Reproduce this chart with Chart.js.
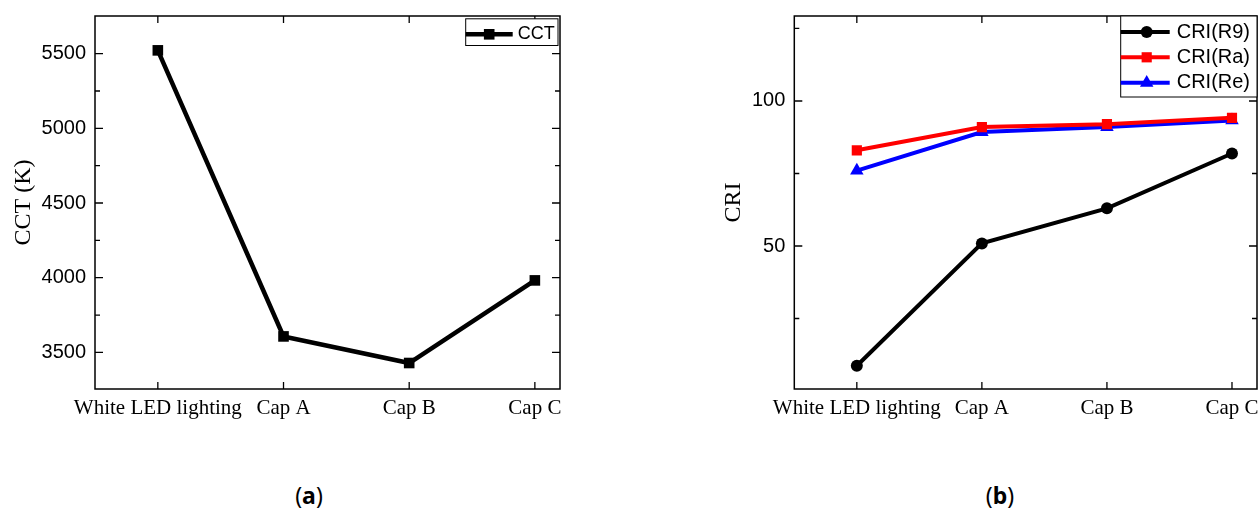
<!DOCTYPE html>
<html><head><meta charset="utf-8">
<script src="https://cdn.jsdelivr.net/npm/chart.js@4/dist/chart.umd.min.js"></script>
<style>
html,body{margin:0;padding:0;background:#fff;}
body{width:1258px;height:511px;position:relative;overflow:hidden;}
#wa{position:absolute;left:0;top:0;width:600px;height:440px;}
#wb{position:absolute;left:680px;top:0;width:578px;height:440px;}
.cap{position:absolute;top:480px;font-family:"Noto Sans";font-size:23px;line-height:30px;color:#000;transform:translateX(-50%);white-space:nowrap;}
.cap b{font-weight:700;}
</style></head>
<body>
<div id="wa"><canvas id="ca" width="600" height="440"></canvas></div>
<div id="wb"><canvas id="cb" width="578" height="440"></canvas></div>
<div class="cap" style="left:309px">(<b>a</b>)</div>
<div class="cap" style="left:1000px">(<b>b</b>)</div>
<script>
const categories = ['White LED lighting', 'Cap A', 'Cap B', 'Cap C'];
const cctValues = [5522, 3607, 3429, 3982];
const cctMajorTicks = [3500, 4000, 4500, 5000, 5500];
const cctMinorTicks = [3750, 4250, 4750, 5250];
const r9Values = [8.7, 50.9, 63.0, 81.9];
const raValues = [83.0, 91.0, 92.0, 94.2];
const reValues = [76.0, 89.3, 91.0, 93.3];
const criMajorTicks = [50, 100];
const criMinorTicks = [25, 75, 125];
const categoryTicks = categories.map((c, i) => i);

const toPoints = vals => vals.map((v, i) => ({x: i, y: v}));

Chart.defaults.color = '#000';
Chart.defaults.animation = false;

function marker(ctx, style, x, y, r) {
  ctx.beginPath();
  if (style === 'rect') {
    const s = Math.SQRT1_2 * r;
    ctx.rect(x - s, y - s, 2 * s, 2 * s);
  } else if (style === 'circle') {
    ctx.arc(x, y, r, 0, Math.PI * 2);
  } else if (style === 'triangle') {
    let rad = 0;
    ctx.moveTo(x + Math.sin(rad) * r, y - Math.cos(rad) * r);
    rad += 2 * Math.PI / 3;
    ctx.lineTo(x + Math.sin(rad) * r, y - Math.cos(rad) * r);
    rad += 2 * Math.PI / 3;
    ctx.lineTo(x + Math.sin(rad) * r, y - Math.cos(rad) * r);
    ctx.closePath();
  }
  ctx.fill();
}

const frameTicks = {
  id: 'frameTicks',
  afterDraw(chart, args, o) {
    const {ctx, chartArea: a, scales: {x, y}} = chart;
    ctx.save();
    ctx.strokeStyle = '#000';
    ctx.lineWidth = 1.5;
    ctx.strokeRect(a.left, a.top, a.right - a.left, a.bottom - a.top);
    ctx.lineWidth = 1.3;
    ctx.beginPath();
    const yt = (v, len) => {
      const p = y.getPixelForValue(v);
      ctx.moveTo(a.left, p); ctx.lineTo(a.left + len, p);
      ctx.moveTo(a.right, p); ctx.lineTo(a.right - len, p);
    };
    o.major.forEach(v => yt(v, 8));
    o.minor.forEach(v => yt(v, 5));
    categoryTicks.forEach(i => {
      const p = x.getPixelForValue(i);
      ctx.moveTo(p, a.bottom); ctx.lineTo(p, a.bottom - 7);
      ctx.moveTo(p, a.top); ctx.lineTo(p, a.top + 7);
    });
    ctx.stroke();

    const L = o.legend;
    const bx = a.right + L.dx, by = a.top + L.dy;
    ctx.fillStyle = '#fff';
    ctx.fillRect(bx, by, L.w, L.h);
    ctx.strokeStyle = '#000';
    ctx.lineWidth = 1;
    ctx.strokeRect(bx, by, L.w, L.h);
    chart.data.datasets.forEach((ds, i) => {
      const cy = by + L.rowY[i];
      ctx.strokeStyle = ds.borderColor;
      ctx.lineWidth = ds.borderWidth;
      ctx.beginPath();
      ctx.moveTo(bx + L.line0, cy); ctx.lineTo(bx + L.line1, cy);
      ctx.stroke();
      ctx.fillStyle = ds.backgroundColor;
      marker(ctx, ds.pointStyle, bx + L.markX, cy, ds.pointRadius);
      ctx.fillStyle = '#000';
      ctx.font = L.font;
      ctx.textBaseline = 'middle';
      ctx.textAlign = 'left';
      ctx.fillText(ds.label, bx + L.textX, cy);
    });
    ctx.restore();
  }
};

function makeOptions(cfg) {
  return {
    responsive: false,
    animation: false,
    layout: {autoPadding: false, padding: {top: 16, right: cfg.padRight, bottom: 0, left: 0}},
    plugins: {
      legend: {display: false},
      tooltip: {enabled: false},
      frameTicks: {major: cfg.major, minor: cfg.minor, legend: cfg.legend}
    },
    scales: {
      x: {
        type: 'linear', min: -0.5, max: 3.2,
        grid: {display: false, drawTicks: false},
        border: {display: false},
        afterBuildTicks: s => { s.ticks = categoryTicks.map(v => ({value: v})); },
        afterFit: s => { s.height = 51; s.paddingLeft = 0; s.paddingRight = 0; },
        ticks: {
          autoSkip: false, maxRotation: 0, padding: 7,
          font: {family: 'Liberation Serif', size: 21},
          callback: v => categories[v]
        }
      },
      y: {
        type: 'linear', min: cfg.ymin, max: cfg.ymax,
        grid: {display: false, drawTicks: false},
        border: {display: false},
        afterBuildTicks: s => { s.ticks = cfg.major.map(v => ({value: v})); },
        afterFit: s => { s.width = cfg.yWidth; s.paddingTop = 0; s.paddingBottom = 0; },
        ticks: {padding: 9, font: {family: 'Liberation Sans', size: 20}, callback: v => String(v)},
        title: {
          display: true, text: cfg.yTitle,
          font: {family: 'Liberation Serif', size: 24},
          padding: {top: cfg.titlePad, bottom: 0}
        }
      }
    }
  };
}

new Chart(document.getElementById('ca'), {
  type: 'line',
  data: {
    datasets: [{
      label: 'CCT', data: toPoints(cctValues),
      borderColor: '#000', backgroundColor: '#000', borderWidth: 4.5,
      pointStyle: 'rect', pointRadius: 7.5, pointBorderWidth: 0, tension: 0
    }]
  },
  options: makeOptions({
    padRight: 40, yWidth: 95, ymin: 3255, ymax: 5752, yTitle: 'CCT (K)', titlePad: 9.6,
    major: cctMajorTicks, minor: cctMinorTicks,
    legend: {dx: -94.3, dy: 2.8, w: 92.3, h: 26.7, rowY: [15.5], line0: 0, line1: 47, markX: 23.5, textX: 52,
      font: '18px "Liberation Sans"'}
  }),
  plugins: [frameTicks]
});

new Chart(document.getElementById('cb'), {
  type: 'line',
  data: {
    datasets: [
      {label: 'CRI(R9)', data: toPoints(r9Values), borderColor: '#000', backgroundColor: '#000',
        borderWidth: 4, pointStyle: 'circle', pointRadius: 6, pointBorderWidth: 0, tension: 0},
      {label: 'CRI(Ra)', data: toPoints(raValues), borderColor: '#ff0000', backgroundColor: '#ff0000',
        borderWidth: 4, pointStyle: 'rect', pointRadius: 7.2, pointBorderWidth: 0, tension: 0},
      {label: 'CRI(Re)', data: toPoints(reValues), borderColor: '#0000ff', backgroundColor: '#0000ff',
        borderWidth: 4, pointStyle: 'triangle', pointRadius: 7.8, pointBorderWidth: 0, tension: 0}
    ]
  },
  options: makeOptions({
    padRight: 1, yWidth: 114.3, ymin: 0.7, ymax: 129.3, yTitle: 'CRI', titlePad: 39.6,
    major: criMajorTicks, minor: criMinorTicks,
    legend: {dx: -136.3, dy: 0, w: 136.3, h: 81, rowY: [16, 41.3, 66.8], line0: 0, line1: 49, markX: 26, textX: 56,
      font: '20px "Liberation Sans"'}
  }),
  plugins: [frameTicks]
});
</script>
</body></html>
